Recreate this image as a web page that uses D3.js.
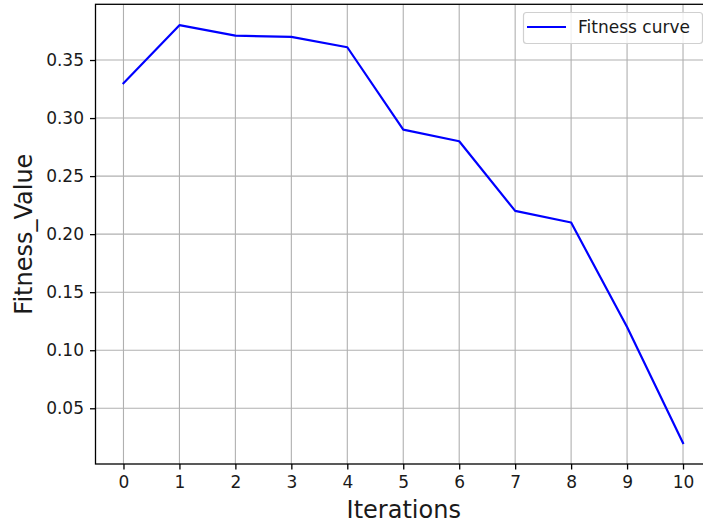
<!DOCTYPE html>
<html>
<head>
<meta charset="utf-8">
<script src="https://cdn.jsdelivr.net/npm/d3@7"></script>
<style>
  html, body { margin: 0; padding: 0; background: #fff; }
  svg { display: block; }
  text { font-family: "DejaVu Sans", sans-serif; fill: #1a1a1a; }
</style>
</head>
<body>
<svg id="chart" width="703" height="526"></svg>
<script>
// Fitness value recorded at each iteration
const iterations = [0, 1, 2, 3, 4, 5, 6, 7, 8, 9, 10];
const fitness = [0.33, 0.38, 0.371, 0.37, 0.361, 0.29, 0.28, 0.22, 0.21, 0.12, 0.02];
const yTicks = [0.05, 0.10, 0.15, 0.20, 0.25, 0.30, 0.35];
const seriesName = "Fitness curve";
const xLabel = "Iterations";
const yLabel = "Fitness_Value";

const svg = d3.select("#chart");
const plotLeft = 95.5, plotRight = 711, plotTop = 4.3, plotBottom = 464;

// 5% padding on both axes, as in the usual plotting defaults
const xMin = d3.min(iterations), xMax = d3.max(iterations);
const xPad = (xMax - xMin) * 0.05;
const x = d3.scaleLinear().domain([xMin - xPad, xMax + xPad]).range([plotLeft, plotRight]);
const yMin = d3.min(fitness), yMax = d3.max(fitness);
const yPad = (yMax - yMin) * 0.05;
const y = d3.scaleLinear().domain([yMin - yPad, yMax + yPad]).range([plotBottom, plotTop]);

const g = svg.append("g");

// grid
g.append("g").selectAll("line").data(iterations).join("line")
  .attr("x1", d => x(d)).attr("x2", d => x(d))
  .attr("y1", plotTop).attr("y2", plotBottom)
  .attr("stroke", "#b0b0b0").attr("stroke-width", 1.1);
g.append("g").selectAll("line").data(yTicks).join("line")
  .attr("x1", plotLeft).attr("x2", plotRight)
  .attr("y1", d => y(d)).attr("y2", d => y(d))
  .attr("stroke", "#b0b0b0").attr("stroke-width", 1.1);

// axes
const xAxis = d3.axisBottom(x).tickValues(iterations).tickFormat(d3.format("d"))
  .tickSizeInner(5.5).tickSizeOuter(0).tickPadding(6);
const yAxis = d3.axisLeft(y).tickValues(yTicks).tickFormat(d3.format(".2f"))
  .tickSizeInner(5.5).tickSizeOuter(0).tickPadding(6);

const gx = g.append("g").attr("transform", `translate(0,${plotBottom})`).call(xAxis);
const gy = g.append("g").attr("transform", `translate(${plotLeft},0)`).call(yAxis);
[gx, gy].forEach(a => {
  a.select(".domain").remove();
  a.selectAll(".tick line").attr("stroke", "#000").attr("stroke-width", 1.3);
  a.selectAll(".tick text").style("font-family", "DejaVu Sans").style("font-size", "17px").attr("fill", "#1a1a1a");
});

// spines
g.append("rect").attr("x", plotLeft).attr("y", plotTop)
  .attr("width", plotRight - plotLeft).attr("height", plotBottom - plotTop)
  .attr("fill", "none").attr("stroke", "#000").attr("stroke-width", 1.3);

// fitness line
const line = d3.line().x((d, i) => x(iterations[i])).y(d => y(d));
g.append("path").datum(fitness).attr("d", line)
  .attr("fill", "none").attr("stroke", "#0000ff").attr("stroke-width", 2.2)
  .attr("stroke-linejoin", "round").attr("stroke-linecap", "square");

// axis labels
svg.append("text").attr("x", (plotLeft + plotRight) / 2 + 0.5).attr("y", 518)
  .attr("text-anchor", "middle").style("font-size", "24px").text(xLabel);
svg.append("text").attr("transform", `translate(32,${(plotTop + plotBottom) / 2}) rotate(-90)`)
  .attr("text-anchor", "middle").style("font-size", "24px").text(yLabel);

// legend
const lg = svg.append("g");
lg.append("rect").attr("x", 523.5).attr("y", 12.5).attr("width", 179).attr("height", 31)
  .attr("rx", 3).attr("fill", "#fff").attr("fill-opacity", 0.8)
  .attr("stroke", "#d0d0d0").attr("stroke-width", 1.2);
lg.append("line").attr("x1", 527).attr("x2", 566).attr("y1", 27).attr("y2", 27)
  .attr("stroke", "#0000ff").attr("stroke-width", 2.2);
lg.append("text").attr("x", 578).attr("y", 33).style("font-size", "17px").text(seriesName);
</script>
</body>
</html>
